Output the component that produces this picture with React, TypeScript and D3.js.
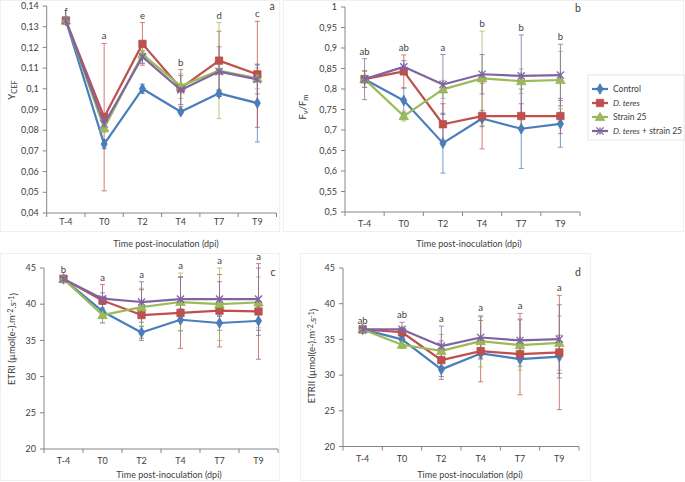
import React from "react";
import * as d3 from "d3";

const times = ["T-4", "T0", "T2", "T4", "T7", "T9"];
const seriesNames = ["Control", "D. teres", "Strain 25", "D. teres + strain 25"];
const seriesColors = ["#4A7EBB", "#C0504D", "#9BBB59", "#8064A2"];
const markerKinds = ["diamond", "square", "triangle", "x"];

// Panel a: Y(CEF)
const ycefControl = [0.133, 0.0733, 0.1, 0.0889, 0.0978, 0.0931];
const ycefTeres = [0.133, 0.0863, 0.1217, 0.1003, 0.1136, 0.107];
const ycefStrain = [0.133, 0.081, 0.1167, 0.1013, 0.1088, 0.105];
const ycefCombo = [0.133, 0.083, 0.1154, 0.0994, 0.1083, 0.1045];
const ycefControlErr = [0.0005, 0.0022, 0.0022, 0.001, 0.0015, 0.0188];
const ycefTeresErr = [0.0005, 0.0356, 0.0103, 0.009, 0.0142, 0.0256];
const ycefStrainErr = [0.0005, 0.002, 0.0045, 0.006, 0.0232, 0.005];
const ycefComboErr = [0.0005, 0.002, 0.003, 0.007, 0.012, 0.007];
const ycefTicks = [0.04, 0.05, 0.06, 0.07, 0.08, 0.09, 0.1, 0.11, 0.12, 0.13, 0.14];
const ycefLetters = ["f", "a", "e", "b", "d", "c"];

// Panel b: Fv/Fm
const fvControl = [0.824, 0.772, 0.668, 0.728, 0.703, 0.715];
const fvTeres = [0.824, 0.843, 0.714, 0.734, 0.734, 0.734];
const fvStrain = [0.824, 0.734, 0.799, 0.826, 0.819, 0.822];
const fvCombo = [0.824, 0.854, 0.811, 0.836, 0.832, 0.834];
const fvControlErr = [0.02, 0.03, 0.073, 0.02, 0.097, 0.057];
const fvTeresErr = [0.02, 0.04, 0.05, 0.08, 0.03, 0.043];
const fvStrainErr = [0.02, 0.012, 0.022, 0.115, 0.03, 0.07];
const fvComboErr = [0.05, 0.015, 0.073, 0.048, 0.1, 0.075];
const fvTicks = [0.5, 0.55, 0.6, 0.65, 0.7, 0.75, 0.8, 0.85, 0.9, 0.95, 1];
const fvLetters = ["ab", "ab", "a", "b", "b", "b"];

// Panel c: ETRI
const etr1Control = [43.5, 39.0, 36.1, 37.85, 37.4, 37.7];
const etr1Teres = [43.5, 40.5, 38.5, 38.8, 39.1, 39.0];
const etr1Strain = [43.5, 38.5, 39.6, 40.3, 40.0, 40.25];
const etr1Combo = [43.5, 40.76, 40.3, 40.7, 40.7, 40.7];
const etr1ControlErr = [0.3, 1.6, 0.8, 1.5, 1.0, 2.0];
const etr1TeresErr = [0.3, 2.2, 3.5, 4.9, 5.0, 6.6];
const etr1StrainErr = [0.3, 1.0, 2.6, 4.0, 5.0, 3.5];
const etr1ComboErr = [0.3, 0.8, 2.8, 3.1, 2.4, 4.3];
const etrTicks = [20, 25, 30, 35, 40, 45];
const etr1Letters = ["b", "a", "a", "a", "a", "a"];

// Panel d: ETRII
const etr2Control = [36.4, 35.0, 30.8, 33.04, 32.24, 32.6];
const etr2Teres = [36.4, 36.0, 32.1, 33.36, 32.94, 33.17];
const etr2Strain = [36.4, 34.25, 33.4, 34.76, 34.2, 34.5];
const etr2Combo = [36.4, 36.4, 34.06, 35.27, 34.85, 35.04];
const etr2ControlErr = [0.2, 0.8, 1.0, 0.8, 1.0, 3.0];
const etr2TeresErr = [0.2, 0.6, 2.7, 4.3, 5.7, 8.0];
const etr2StrainErr = [0.2, 0.5, 2.3, 3.6, 3.5, 3.8];
const etr2ComboErr = [0.2, 1.0, 2.8, 2.9, 3.0, 4.8];
const etr2Letters = ["ab", "ab", "a", "a", "a", "a"];

const FONT = "Lato, 'Open Sans', 'Liberation Sans', sans-serif";
const AXIS = "#868686";
const TXT = "#404040";
const FS = 9;

function fmt(v: number) {
  return String(+v.toFixed(4)).replace(".", ",");
}

function Marker({ kind, x, y, color }: { kind: string; x: number; y: number; color: string }) {
  if (kind === "x") {
    const r = 3.6;
    return (
      <g stroke={color} strokeWidth={1.3}>
        <line x1={x - r} y1={y - r} x2={x + r} y2={y + r} />
        <line x1={x - r} y1={y + r} x2={x + r} y2={y - r} />
        <line x1={x} y1={y - r} x2={x} y2={y + r} />
      </g>
    );
  }
  const sym =
    kind === "diamond" ? d3.symbolDiamond : kind === "square" ? d3.symbolSquare : d3.symbolTriangle;
  const size = kind === "diamond" ? 34 : kind === "square" ? 56 : 40;
  const p = d3.symbol().type(sym).size(size)() as string;
  return (
    <path
      d={p}
      transform={`translate(${x},${y + (kind === "triangle" ? 0.8 : 0)})`}
      fill={color}
      stroke={d3.color(color)!.darker(0.3).toString()}
      strokeWidth={0.6}
    />
  );
}

type PanelProps = {
  x0: number;
  x1: number;
  yTop: number;
  yBottom: number;
  domain: [number, number];
  ticks: number[];
  values: number[][];
  errors: number[][];
  letters: string[];
  tickLabelDy: number;
  xTitleX: number;
  xTitleY: number;
  label: string;
  labelX: number;
  labelY: number;
  yTitle: React.ReactNode;
  yTitleX: number;
  yTitleY: number;
};

function Panel(p: PanelProps) {
  const x = d3.scaleBand<string>().domain(times).range([p.x0, p.x1]);
  const y = d3.scaleLinear().domain(p.domain).range([p.yBottom, p.yTop]);
  const cx = (t: string) => (x(t) as number) + x.bandwidth() / 2;
  const line = d3
    .line<number>()
    .x((_, i) => cx(times[i]))
    .y((v) => y(v));
  const bounds = times.map((_, i) => p.x0 + i * x.bandwidth()).concat([p.x1]);
  return (
    <g>
      <line x1={p.x0} x2={p.x0} y1={p.yTop} y2={p.yBottom} stroke={AXIS} />
      {p.ticks.map((t) => (
        <g key={t}>
          <line x1={p.x0 - 4} x2={p.x0} y1={y(t)} y2={y(t)} stroke={AXIS} />
          <text x={p.x0 - 8} y={y(t)} dy="0.35em" textAnchor="end" fontSize={FS} fill={TXT} fontFamily={FONT}>
            {fmt(t)}
          </text>
        </g>
      ))}
      <line x1={p.x0} x2={p.x1} y1={p.yBottom} y2={p.yBottom} stroke={AXIS} />
      {bounds.map((b, i) => (
        <line key={i} x1={b} x2={b} y1={p.yBottom} y2={p.yBottom + 4} stroke={AXIS} />
      ))}
      {times.map((t) => (
        <text key={t} x={cx(t)} y={p.yBottom + p.tickLabelDy} dy="0.35em" textAnchor="middle" fontSize={FS} fill={TXT} fontFamily={FONT}>
          {t}
        </text>
      ))}
      <text x={p.xTitleX} y={p.xTitleY} dy="0.35em" textAnchor="middle" fontSize={FS} fill={TXT} fontFamily={FONT}>
        Time post-inoculation (dpi)
      </text>
      <text transform={`translate(${p.yTitleX},${p.yTitleY}) rotate(-90)`} dy="0.35em" textAnchor="middle" fontSize={9.5} fill={TXT} fontFamily={FONT}>
        {p.yTitle}
      </text>
      <text x={p.labelX} y={p.labelY} dy="0.35em" textAnchor="middle" fontSize={10.5} fill={TXT} fontFamily={FONT}>
        {p.label}
      </text>
      {p.values.map((vals, s) =>
        vals.map((v, i) => {
          const e = p.errors[s][i];
          const xx = cx(times[i]);
          return (
            <g key={`e${s}-${i}`} stroke={seriesColors[s]} strokeWidth={1} opacity={0.75}>
              <line x1={xx} x2={xx} y1={y(v + e)} y2={y(v - e)} />
              <line x1={xx - 2.5} x2={xx + 2.5} y1={y(v + e)} y2={y(v + e)} />
              <line x1={xx - 2.5} x2={xx + 2.5} y1={y(v - e)} y2={y(v - e)} />
            </g>
          );
        })
      )}
      {p.values.map((vals, s) => (
        <g key={`s${s}`}>
          <path d={line(vals) as string} fill="none" stroke={seriesColors[s]} strokeWidth={2.2} strokeLinejoin="round" />
          {vals.map((v, i) => (
            <Marker key={i} kind={markerKinds[s]} x={cx(times[i])} y={y(v)} color={seriesColors[s]} />
          ))}
        </g>
      ))}
      {p.letters.map((l, i) => {
        const top = d3.max(p.values.map((vals, s) => vals[i] + p.errors[s][i])) as number;
        return (
          <text key={`l${i}`} x={cx(times[i])} y={y(top) - 4} textAnchor="middle" fontSize={9.5} fill={TXT} fontFamily={FONT}>
            {l}
          </text>
        );
      })}
    </g>
  );
}

function Legend() {
  const x0 = 588;
  const y0 = 75;
  return (
    <g>
      <rect x={x0} y={y0} width={96} height={65} fill="white" stroke="#e6e6e6" />
      {seriesNames.map((n, i) => {
        const yy = y0 + 14 + i * 14;
        return (
          <g key={n}>
            <line x1={x0 + 4} x2={x0 + 20} y1={yy} y2={yy} stroke={seriesColors[i]} strokeWidth={2.2} />
            <Marker kind={markerKinds[i]} x={x0 + 12} y={yy} color={seriesColors[i]} />
            <text x={x0 + 25} y={yy} dy="0.35em" fontSize={8.5} fill={TXT} fontFamily={FONT}>
              {n === "D. teres" ? (
                <tspan fontStyle="italic">D. teres</tspan>
              ) : n === "D. teres + strain 25" ? (
                <>
                  <tspan fontStyle="italic">D. teres</tspan>
                  <tspan> + strain 25</tspan>
                </>
              ) : (
                n
              )}
            </text>
          </g>
        );
      })}
    </g>
  );
}

export default function App() {
  return (
    <svg width={685} height={482} style={{ position: "absolute", left: 0, top: 0, background: "white" }}>
      <rect x={0} y={0} width={685} height={482} fill="white" />
      <rect x={0.5} y={0.5} width={279} height={231} fill="none" stroke="#f0f0f0" />
      <rect x={283.5} y={0.5} width={400} height={231} fill="none" stroke="#f0f0f0" />
      <rect x={0.5} y={253.5} width={279} height={227} fill="none" stroke="#f0f0f0" />
      <rect x={300.5} y={253.5} width={290} height={227} fill="none" stroke="#f0f0f0" />
      <Panel
        x0={46.7}
        x1={276.5}
        yTop={6}
        yBottom={213}
        domain={[0.04, 0.14]}
        ticks={ycefTicks}
        values={[ycefControl, ycefTeres, ycefStrain, ycefCombo]}
        errors={[ycefControlErr, ycefTeresErr, ycefStrainErr, ycefComboErr]}
        letters={ycefLetters}
        tickLabelDy={9}
        xTitleX={166}
        xTitleY={244}
        label="a"
        labelX={272}
        labelY={6}
        yTitle={
          <>
            <tspan>Y</tspan>
            <tspan fontSize={7.5} dy="0.25em">CEF</tspan>
          </>
        }
        yTitleX={12}
        yTitleY={90}
      />
      <Panel
        x0={345}
        x1={580}
        yTop={7}
        yBottom={212}
        domain={[0.5, 1]}
        ticks={fvTicks}
        values={[fvControl, fvTeres, fvStrain, fvCombo]}
        errors={[fvControlErr, fvTeresErr, fvStrainErr, fvComboErr]}
        letters={fvLetters}
        tickLabelDy={12}
        xTitleX={469}
        xTitleY={244}
        label="b"
        labelX={578}
        labelY={8}
        yTitle={
          <>
            <tspan>F</tspan>
            <tspan fontSize={7.5} dy="0.25em">v</tspan>
            <tspan dy="-0.25em">/F</tspan>
            <tspan fontSize={7.5} dy="0.25em">m</tspan>
          </>
        }
        yTitleX={303}
        yTitleY={107}
      />
      <Panel
        x0={44}
        x1={278}
        yTop={268}
        yBottom={449}
        domain={[20, 45]}
        ticks={etrTicks}
        values={[etr1Control, etr1Teres, etr1Strain, etr1Combo]}
        errors={[etr1ControlErr, etr1TeresErr, etr1StrainErr, etr1ComboErr]}
        letters={etr1Letters}
        tickLabelDy={12}
        xTitleX={169}
        xTitleY={475}
        label="c"
        labelX={273}
        labelY={272}
        yTitle={
          <>
            <tspan>ETRI (µmol(e-).m</tspan>
            <tspan fontSize={7} dy="-0.4em">-2</tspan>
            <tspan dy="0.4em">.s</tspan>
            <tspan fontSize={7} dy="-0.4em">-1</tspan>
            <tspan dy="0.4em">)</tspan>
          </>
        }
        yTitleX={12}
        yTitleY={339}
      />
      <Panel
        x0={343}
        x1={579}
        yTop={268}
        yBottom={446.5}
        domain={[20, 45]}
        ticks={etrTicks}
        values={[etr2Control, etr2Teres, etr2Strain, etr2Combo]}
        errors={[etr2ControlErr, etr2TeresErr, etr2StrainErr, etr2ComboErr]}
        letters={etr2Letters}
        tickLabelDy={12}
        xTitleX={470}
        xTitleY={475}
        label="d"
        labelX={578}
        labelY={272}
        yTitle={
          <>
            <tspan>ETRII (µmol(e-).m</tspan>
            <tspan fontSize={7} dy="-0.4em">-2</tspan>
            <tspan dy="0.4em">.s</tspan>
            <tspan fontSize={7} dy="-0.4em">-1</tspan>
            <tspan dy="0.4em">)</tspan>
          </>
        }
        yTitleX={312}
        yTitleY={356}
      />
      <Legend />
    </svg>
  );
}
